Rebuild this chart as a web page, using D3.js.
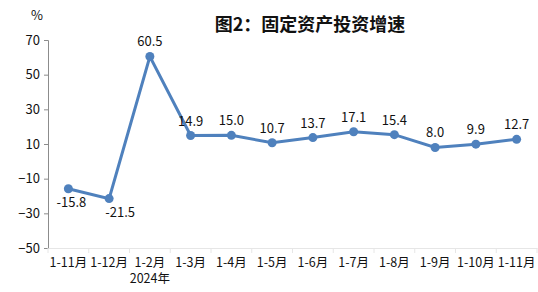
<!DOCTYPE html>
<html>
<head>
<meta charset="utf-8">
<script src="https://cdn.jsdelivr.net/npm/d3@7/dist/d3.min.js"></script>
<style>
  body { margin: 0; background: #fff; }
  svg text { font-family: "Noto Sans CJK SC", "Noto Sans", sans-serif; fill: #111; }
</style>
</head>
<body>
<svg id="chart" width="538" height="292"></svg>
<script>
// chart data
var months = ["1-11月", "1-12月", "1-2月", "1-3月", "1-4月", "1-5月", "1-6月", "1-7月", "1-8月", "1-9月", "1-10月", "1-11月"];
var growth = [-15.8, -21.5, 60.5, 14.9, 15.0, 10.7, 13.7, 17.1, 15.4, 8.0, 9.9, 12.7];
var yTicks = [70, 50, 30, 10, -10, -30, -50];
var yearNote = "2024年";

var svg = d3.select("#chart");
var plotLeft = 48, plotRight = 537, plotTop = 40, plotBottom = 248;

var x = d3.scaleBand()
  .domain(d3.range(months.length))
  .range([plotLeft, plotRight]);

var y = d3.scaleLinear()
  .domain([-50, 70])
  .range([plotBottom, plotTop]);

// title
svg.append("text")
  .attr("x", 310)
  .attr("y", 31)
  .attr("text-anchor", "middle")
  .style("font-size", "18px")
  .style("font-weight", "bold")
  .text("图2：固定资产投资增速");

// unit
svg.append("text")
  .attr("x", 37)
  .attr("y", 20)
  .attr("text-anchor", "middle")
  .style("font-size", "13px")
  .text("%");

// y axis
var yAxis = svg.append("g")
  .attr("transform", "translate(" + plotLeft + ",0)")
  .call(d3.axisLeft(y).tickValues(yTicks).tickSize(4).tickPadding(4));
yAxis.select(".domain").attr("stroke", "#8c8c8c");
yAxis.selectAll(".tick line").attr("stroke", "#8c8c8c");
yAxis.selectAll(".tick text")
  .style("font-size", "13px")
  .style("fill", "#111");

// x axis
var xAxis = svg.append("g")
  .attr("transform", "translate(0," + plotBottom + ")")
  .call(d3.axisBottom(x).tickFormat(function(i) { return months[i]; }).tickSize(0).tickPadding(10));
xAxis.select(".domain").attr("stroke", "#e6e6e6");
xAxis.selectAll(".tick text")
  .style("font-size", "12.5px")
  .style("fill", "#111");

// category separators
svg.append("g")
  .selectAll("line")
  .data(d3.range(months.length + 1))
  .enter().append("line")
  .attr("x1", function(i) { return plotLeft + i * x.bandwidth(); })
  .attr("x2", function(i) { return plotLeft + i * x.bandwidth(); })
  .attr("y1", plotBottom)
  .attr("y2", plotBottom + 5)
  .attr("stroke", "#e6e6e6");

svg.append("text")
  .attr("x", x(2) + x.bandwidth() / 2)
  .attr("y", 283)
  .attr("text-anchor", "middle")
  .style("font-size", "12.5px")
  .text(yearNote);

// line
var line = d3.line()
  .x(function(d, i) { return x(i) + x.bandwidth() / 2; })
  .y(function(d) { return y(d); });

svg.append("path")
  .datum(growth)
  .attr("d", line)
  .attr("fill", "none")
  .attr("stroke", "#4f81bd")
  .attr("stroke-width", 3);

svg.append("g")
  .selectAll("circle")
  .data(growth)
  .enter().append("circle")
  .attr("cx", function(d, i) { return x(i) + x.bandwidth() / 2; })
  .attr("cy", function(d) { return y(d); })
  .attr("r", 4.5)
  .attr("fill", "#4f81bd");

// value labels
svg.append("g")
  .selectAll("text")
  .data(growth)
  .enter().append("text")
  .attr("x", function(d, i) {
    var cx = x(i) + x.bandwidth() / 2;
    if (i === 1) return cx + 11;
    if (i === 0) return cx + 3;
    return cx;
  })
  .attr("y", function(d) { return d < 0 ? y(d) + 18 : y(d) - 10; })
  .attr("text-anchor", "middle")
  .style("font-size", "13px")
  .text(function(d) { return d.toFixed(1); });
</script>
</body>
</html>
